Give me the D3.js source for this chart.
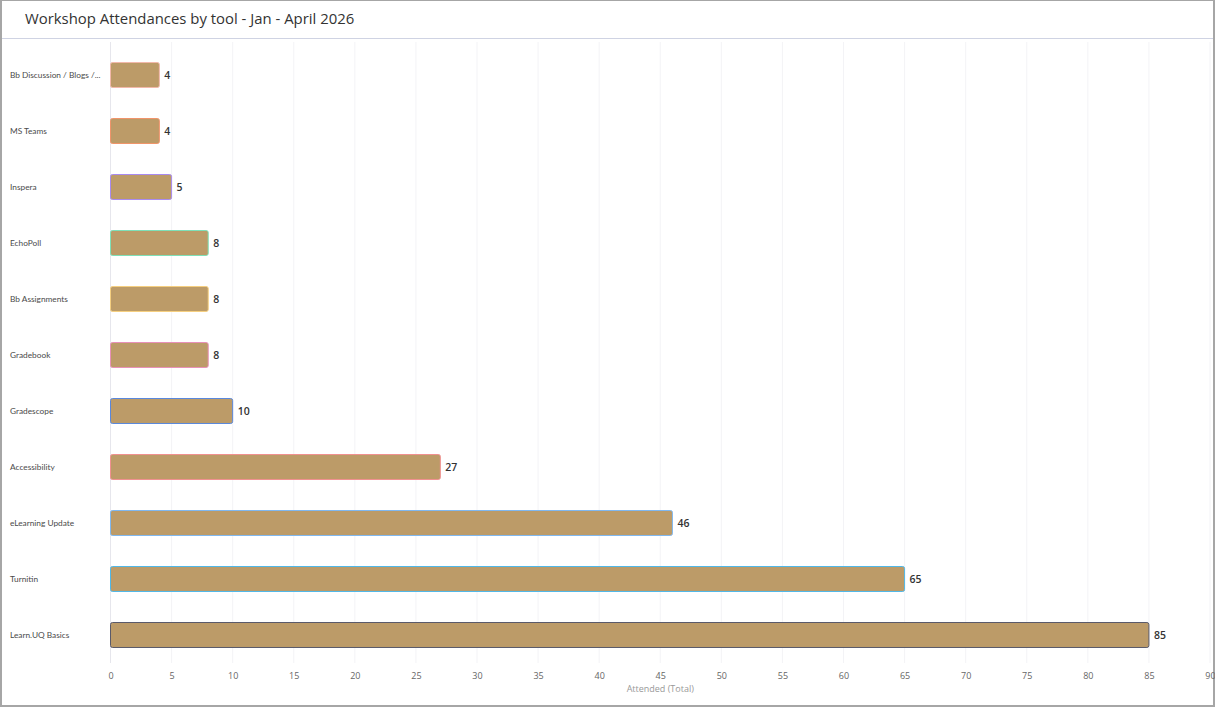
<!DOCTYPE html>
<html><head><meta charset="utf-8">
<script src="https://cdn.jsdelivr.net/npm/d3@7/dist/d3.min.js"></script>
<style>
html,body{margin:0;padding:0;background:#fff;}
svg{display:block;font-family:"Open Sans","Noto Sans",sans-serif;}
</style></head>
<body><svg id="c" width="1215" height="707"></svg>
<script>
const categories = ["Bb Discussion / Blogs /...","MS Teams","Inspera","EchoPoll","Bb Assignments","Gradebook","Gradescope","Accessibility","eLearning Update","Turnitin","Learn.UQ Basics"];
const values = [4,4,5,8,8,8,10,27,46,65,85];
const strokeColors = ["#f2b8aa","#f0946a","#a88af0","#7ee0b8","#f5cf80","#e890b8","#5a88dc","#f09090","#80b8f0","#50b8e8","#5a5a6a"];
const tickValues = [0,5,10,15,20,25,30,35,40,45,50,55,60,65,70,75,80,85,90];
const title = "Workshop Attendances by tool - Jan - April 2026";
const xTitle = "Attended (Total)";

const W=1215,H=707;
const svg=d3.select("#c");
svg.append("rect").attr("x",0).attr("y",0).attr("width",W).attr("height",H).attr("fill","#a6a6a6");
svg.append("rect").attr("x",2).attr("y",1).attr("width",W-4).attr("height",H-3).attr("fill","#fff");
svg.append("text").attr("x",25).attr("y",24).attr("font-size",14.9).attr("fill","#333").text(title);
svg.append("line").attr("x1",2).attr("x2",W-2).attr("y1",38.5).attr("y2",38.5).attr("stroke","#cfd3e3").attr("stroke-width",1);

const x=d3.scaleLinear().domain([0,90]).range([110.5,1210]);
const y=d3.scaleBand().domain(categories).range([47,663]).paddingInner(0.536).paddingOuter(0.268);

svg.append("g").selectAll("line").data(tickValues).join("line")
 .attr("x1",d=>x(d)).attr("x2",d=>x(d)).attr("y1",42).attr("y2",663)
 .attr("stroke",(d)=>d===0?"#e6e6ec":"#f3f3f6").attr("stroke-width",1);

const ax=svg.append("g").attr("transform","translate(0,664)")
 .call(d3.axisBottom(x).tickValues(tickValues).tickSize(0).tickPadding(9));
ax.select(".domain").remove();
ax.selectAll("text").attr("font-size",9).attr("fill","#666").attr("font-family","\"Open Sans\",sans-serif");

svg.append("text").attr("x",x(45)).attr("y",692).attr("text-anchor","middle").attr("font-size",9).attr("fill","#999").text(xTitle);

svg.selectAll(".cat").data(categories).join("text")
 .attr("x",10).attr("y",d=>y(d)+y.bandwidth()/2).attr("dy","0.35em")
 .attr("font-size",8.3).attr("font-family","Lato,sans-serif").attr("fill","#4a4a4a").text(d=>d);

svg.selectAll(".bar").data(categories).join("rect")
 .attr("x",x(0)).attr("y",d=>y(d)+0.5)
 .attr("width",(d,i)=>x(values[i])-x(0)).attr("height",y.bandwidth()-1)
 .attr("rx",2).attr("fill","#bc9b68").attr("stroke",(d,i)=>strokeColors[i]).attr("stroke-width",1);

svg.selectAll(".lbl").data(categories).join("text")
 .attr("x",(d,i)=>x(values[i])+5).attr("y",d=>y(d)+y.bandwidth()/2).attr("dy","0.35em")
 .attr("font-size",10.5).attr("font-weight",600).attr("fill","#333").text((d,i)=>values[i]);
</script></body></html>
